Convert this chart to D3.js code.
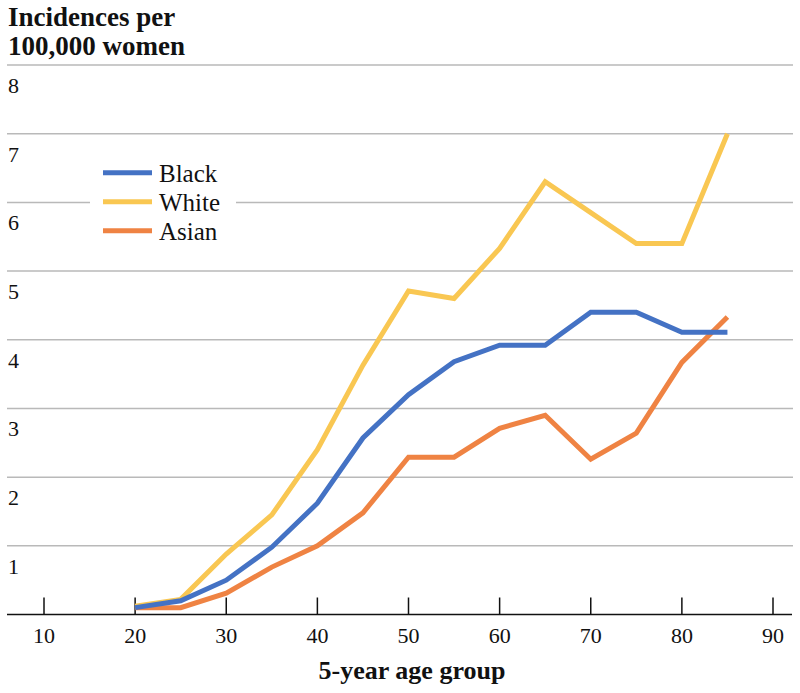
<!DOCTYPE html>
<html>
<head>
<meta charset="utf-8">
<script src="https://cdn.jsdelivr.net/npm/d3@7"></script>
<style>
  body { margin: 0; background: #fff; }
</style>
</head>
<body>
<svg id="chart"></svg>
<script>
// ages of the 5-year groups
const ages = [20, 25, 30, 35, 40, 45, 50, 55, 60, 65, 70, 75, 80, 85];
const black = [0.1, 0.2, 0.5, 0.98, 1.62, 2.57, 3.2, 3.68, 3.92, 3.92, 4.4, 4.4, 4.11, 4.11];
const white = [0.12, 0.22, 0.88, 1.45, 2.4, 3.63, 4.71, 4.6, 5.33, 6.3, 5.85, 5.4, 5.4, 7.0];
const asian = [0.1, 0.1, 0.31, 0.69, 1.0, 1.48, 2.29, 2.29, 2.71, 2.9, 2.26, 2.64, 3.67, 4.33];
const xTicks = [10, 20, 30, 40, 50, 60, 70, 80, 90];
const yTicks = [1, 2, 3, 4, 5, 6, 7, 8];
const seriesNames = ["Black", "White", "Asian"];

function main() {
  const width = 800, height = 693;
  const font = "Liberation Serif";
  const ink = "#111";
  const colors = { Black: "#4472c4", White: "#f9c752", Asian: "#ef8343" };
  const series = { Black: black, White: white, Asian: asian };

  const svg = d3.select("#chart").attr("width", width).attr("height", height);

  const x = d3.scaleLinear().domain([10, 90]).range([44, 773]);
  const y = d3.scaleLinear().domain([0, 8]).range([614.5, 65]);

  // title
  const title = svg.append("text")
    .attr("font-family", font).attr("fill", ink)
    .attr("font-size", 27).attr("font-weight", "bold");
  title.append("tspan").attr("x", 8).attr("y", 26).text("Incidences per");
  title.append("tspan").attr("x", 8).attr("y", 55).text("100,000 women");

  // gridlines
  svg.append("g").selectAll("line")
    .data(yTicks).enter()
    .append("line")
      .attr("x1", 7).attr("x2", 793)
      .attr("y1", d => y(d)).attr("y2", d => y(d))
      .attr("stroke", "#b9b9b9").attr("stroke-width", 1.5);

  // y labels sit under their gridline
  svg.append("g").selectAll("text")
    .data(yTicks).enter()
    .append("text")
      .attr("x", 8)
      .attr("y", d => y(d) + 28)
      .attr("font-family", font).attr("fill", ink)
      .attr("font-size", 22)
      .text(d => d);

  // x axis
  const xAxis = svg.append("g").attr("transform", `translate(0, ${y(0)})`);
  xAxis.append("line")
    .attr("x1", 7).attr("x2", 792)
    .attr("stroke", ink).attr("stroke-width", 1.5);
  xAxis.selectAll("line.tick")
    .data(xTicks).enter()
    .append("line").attr("class", "tick")
      .attr("x1", d => x(d)).attr("x2", d => x(d))
      .attr("y1", 0).attr("y2", -17)
      .attr("stroke", ink).attr("stroke-width", 1.5);
  xAxis.selectAll("text")
    .data(xTicks).enter()
    .append("text")
      .attr("x", d => x(d))
      .attr("y", 28.5)
      .attr("text-anchor", "middle")
      .attr("font-family", font).attr("fill", ink)
      .attr("font-size", 22)
      .text(d => d);

  svg.append("text")
    .attr("x", 412).attr("y", 679)
    .attr("text-anchor", "middle")
    .attr("font-family", font).attr("fill", ink)
    .attr("font-size", 26).attr("font-weight", "bold")
    .text("5-year age group");

  // lines
  const lineMaker = d3.line().x((d, i) => x(ages[i])).y(d => y(d));
  ["White", "Asian", "Black"].forEach(name => {
    svg.append("path")
      .attr("d", lineMaker(series[name]))
      .attr("fill", "none")
      .attr("stroke", colors[name])
      .attr("stroke-width", 5)
      .attr("stroke-linejoin", "miter");
  });

  // legend
  const legend = svg.append("g");
  legend.append("rect")
    .attr("x", 90).attr("y", 155).attr("width", 146).attr("height", 92)
    .attr("fill", "#fff");
  seriesNames.forEach((name, i) => {
    const ly = 172.7 + i * 29;
    legend.append("line")
      .attr("x1", 103).attr("x2", 152)
      .attr("y1", ly).attr("y2", ly)
      .attr("stroke", colors[name]).attr("stroke-width", 5);
    legend.append("text")
      .attr("x", 159).attr("y", ly + 9)
      .attr("font-family", font).attr("fill", ink)
      .attr("font-size", 25)
      .text(name);
  });
}

window.addEventListener("load", main);
</script>
</body>
</html>
